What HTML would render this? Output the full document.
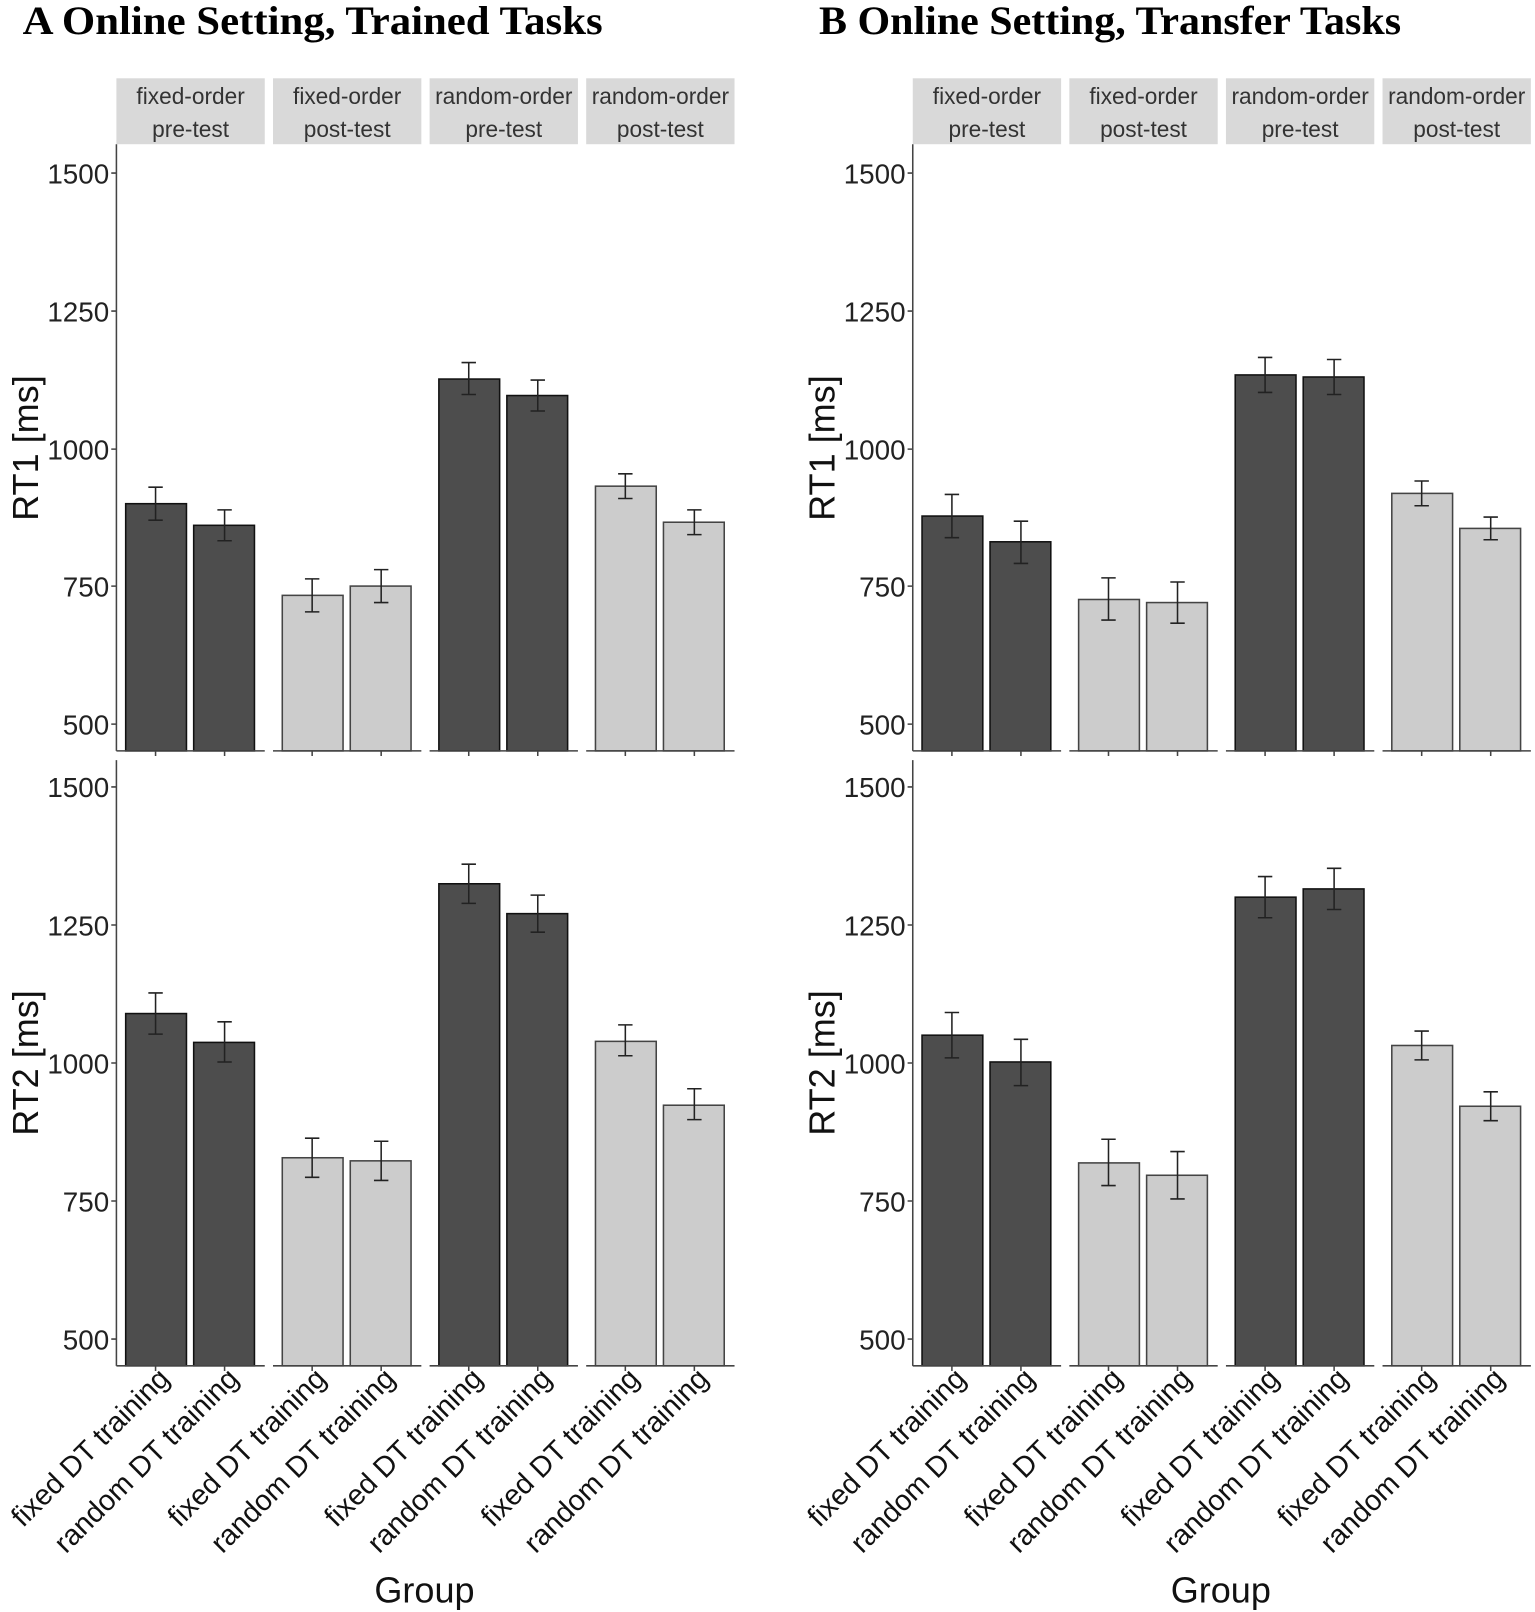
<!DOCTYPE html>
<html><head><meta charset="utf-8"><style>
html,body{margin:0;padding:0;background:#fff}
svg{display:block}
.t{font-family:"Liberation Serif",serif;font-weight:bold;font-size:39px}
.tk{font-family:"Liberation Sans",sans-serif;font-size:27px;fill:#222;text-anchor:end}
.st{font-family:"Liberation Sans",sans-serif;font-size:22px;fill:#333;text-anchor:middle}
.yl{font-family:"Liberation Sans",sans-serif;font-size:35px;fill:#111;text-anchor:middle}
.xl{font-family:"Liberation Sans",sans-serif;font-size:28px;fill:#111;text-anchor:end}
.d{fill:#4d4d4d;stroke:#111;stroke-width:1.5}
.l{fill:#cccccc;stroke:#444;stroke-width:1.5}
.e{stroke:#222;stroke-width:1.5;fill:none}
.ax{stroke:#444;stroke-width:1.5;fill:none}
.sb{fill:#d9d9d9}
</style></head><body>
<svg width="1535" height="1612" viewBox="0 0 1490 1565" preserveAspectRatio="none" xmlns="http://www.w3.org/2000/svg">
<text class="t" x="22" y="33" textLength="563" lengthAdjust="spacingAndGlyphs">A  Online Setting, Trained Tasks</text>
<text class="t" x="795" y="33" textLength="565" lengthAdjust="spacingAndGlyphs">B  Online Setting, Transfer Tasks</text>

<!-- Panel A -->
<g>
<rect class="sb" x="113" y="76" width="144" height="64"/><rect class="sb" x="265" y="76" width="144" height="64"/><rect class="sb" x="417" y="76" width="144" height="64"/><rect class="sb" x="569" y="76" width="144" height="64"/>
<text class="st" x="185" y="101">fixed-order</text><text class="st" x="185" y="133">pre-test</text>
<text class="st" x="337" y="101">fixed-order</text><text class="st" x="337" y="133">post-test</text>
<text class="st" x="489" y="101">random-order</text><text class="st" x="489" y="133">pre-test</text>
<text class="st" x="641" y="101">random-order</text><text class="st" x="641" y="133">post-test</text>
<line class="ax" x1="113" y1="140" x2="113" y2="729"/><line class="ax" x1="113" y1="738" x2="113" y2="1326"/>
<g class="tk"><text x="106" y="178">1500</text><text x="106" y="312">1250</text><text x="106" y="446">1000</text><text x="106" y="579">750</text><text x="106" y="713">500</text>
<text x="106" y="774">1500</text><text x="106" y="908">1250</text><text x="106" y="1042">1000</text><text x="106" y="1176">750</text><text x="106" y="1310">500</text></g>
<path class="ax" d="M108 168H113M108 302H113M108 436H113M108 569H113M108 703H113M108 764H113M108 898H113M108 1032H113M108 1166H113M108 1300H113"/>
<text class="yl" transform="translate(37,435) rotate(-90)">RT1 [ms]</text>
<text class="yl" transform="translate(37,1032) rotate(-90)">RT2 [ms]</text>
<rect class="d" x="122" y="489" width="59" height="240"/><rect class="d" x="188" y="510" width="59" height="219"/>
<rect class="l" x="274" y="578" width="59" height="151"/><rect class="l" x="340" y="569" width="59" height="160"/>
<rect class="d" x="426" y="368" width="59" height="361"/><rect class="d" x="492" y="384" width="59" height="345"/>
<rect class="l" x="578" y="472" width="59" height="257"/><rect class="l" x="644" y="507" width="59" height="222"/>
<path class="e" d="M151 473V505M144 473H158M144 505H158 M218 495V525M211 495H225M211 525H225 M303 562V594M296 562H310M296 594H310 M370 553V585M363 553H377M363 585H377 M455 352V383M448 352H462M448 383H462 M522 369V399M515 369H529M515 399H529 M607 460V484M600 460H614M600 484H614 M674 495V519M667 495H681M667 519H681"/>
<rect class="d" x="122" y="984" width="59" height="342"/><rect class="d" x="188" y="1012" width="59" height="314"/>
<rect class="l" x="274" y="1124" width="59" height="202"/><rect class="l" x="340" y="1127" width="59" height="199"/>
<rect class="d" x="426" y="858" width="59" height="468"/><rect class="d" x="492" y="887" width="59" height="439"/>
<rect class="l" x="578" y="1011" width="59" height="315"/><rect class="l" x="644" y="1073" width="59" height="253"/>
<path class="e" d="M151 964V1004M144 964H158M144 1004H158 M218 992V1031M211 992H225M211 1031H225 M303 1105V1143M296 1105H310M296 1143H310 M370 1108V1146M363 1108H377M363 1146H377 M455 839V877M448 839H462M448 877H462 M522 869V905M515 869H529M515 905H529 M607 995V1025M600 995H614M600 1025H614 M674 1057V1087M667 1057H681M667 1087H681"/>
<path class="ax" d="M113 729H257M265 729H409M417 729H561M569 729H713 M113 1326H257M265 1326H409M417 1326H561M569 1326H713"/>
<path class="ax" d="M151 729v5M218 729v5M303 729v5M370 729v5M455 729v5M522 729v5M607 729v5M674 729v5 M151 1326v5M218 1326v5M303 1326v5M370 1326v5M455 1326v5M522 1326v5M607 1326v5M674 1326v5"/>
<g class="xl">
<text transform="translate(166,1340) rotate(-45)">fixed DT training</text>
<text transform="translate(233,1340) rotate(-45)">random DT training</text>
<text transform="translate(318,1340) rotate(-45)">fixed DT training</text>
<text transform="translate(385,1340) rotate(-45)">random DT training</text>
<text transform="translate(470,1340) rotate(-45)">fixed DT training</text>
<text transform="translate(537,1340) rotate(-45)">random DT training</text>
<text transform="translate(622,1340) rotate(-45)">fixed DT training</text>
<text transform="translate(689,1340) rotate(-45)">random DT training</text>
</g>
<text class="yl" x="412" y="1556">Group</text>
</g>

<!-- Panel B -->
<g transform="translate(773,0)">
<rect class="sb" x="113" y="76" width="144" height="64"/><rect class="sb" x="265" y="76" width="144" height="64"/><rect class="sb" x="417" y="76" width="144" height="64"/><rect class="sb" x="569" y="76" width="144" height="64"/>
<text class="st" x="185" y="101">fixed-order</text><text class="st" x="185" y="133">pre-test</text>
<text class="st" x="337" y="101">fixed-order</text><text class="st" x="337" y="133">post-test</text>
<text class="st" x="489" y="101">random-order</text><text class="st" x="489" y="133">pre-test</text>
<text class="st" x="641" y="101">random-order</text><text class="st" x="641" y="133">post-test</text>
<line class="ax" x1="113" y1="140" x2="113" y2="729"/><line class="ax" x1="113" y1="738" x2="113" y2="1326"/>
<g class="tk"><text x="106" y="178">1500</text><text x="106" y="312">1250</text><text x="106" y="446">1000</text><text x="106" y="579">750</text><text x="106" y="713">500</text>
<text x="106" y="774">1500</text><text x="106" y="908">1250</text><text x="106" y="1042">1000</text><text x="106" y="1176">750</text><text x="106" y="1310">500</text></g>
<path class="ax" d="M108 168H113M108 302H113M108 436H113M108 569H113M108 703H113M108 764H113M108 898H113M108 1032H113M108 1166H113M108 1300H113"/>
<text class="yl" transform="translate(37,435) rotate(-90)">RT1 [ms]</text>
<text class="yl" transform="translate(37,1032) rotate(-90)">RT2 [ms]</text>
<rect class="d" x="122" y="501" width="59" height="228"/><rect class="d" x="188" y="526" width="59" height="203"/>
<rect class="l" x="274" y="582" width="59" height="147"/><rect class="l" x="340" y="585" width="59" height="144"/>
<rect class="d" x="426" y="364" width="59" height="365"/><rect class="d" x="492" y="366" width="59" height="363"/>
<rect class="l" x="578" y="479" width="59" height="250"/><rect class="l" x="644" y="513" width="59" height="216"/>
<path class="e" d="M151 480V522M144 480H158M144 522H158 M218 506V547M211 506H225M211 547H225 M303 561V602M296 561H310M296 602H310 M370 565V605M363 565H377M363 605H377 M455 347V381M448 347H462M448 381H462 M522 349V383M515 349H529M515 383H529 M607 467V491M600 467H614M600 491H614 M674 502V524M667 502H681M667 524H681"/>
<rect class="d" x="122" y="1005" width="59" height="321"/><rect class="d" x="188" y="1031" width="59" height="295"/>
<rect class="l" x="274" y="1129" width="59" height="197"/><rect class="l" x="340" y="1141" width="59" height="185"/>
<rect class="d" x="426" y="871" width="59" height="455"/><rect class="d" x="492" y="863" width="59" height="463"/>
<rect class="l" x="578" y="1015" width="59" height="311"/><rect class="l" x="644" y="1074" width="59" height="252"/>
<path class="e" d="M151 983V1027M144 983H158M144 1027H158 M218 1009V1054M211 1009H225M211 1054H225 M303 1106V1151M296 1106H310M296 1151H310 M370 1118V1164M363 1118H377M363 1164H377 M455 851V891M448 851H462M448 891H462 M522 843V883M515 843H529M515 883H529 M607 1001V1029M600 1001H614M600 1029H614 M674 1060V1088M667 1060H681M667 1088H681"/>
<path class="ax" d="M113 729H257M265 729H409M417 729H561M569 729H713 M113 1326H257M265 1326H409M417 1326H561M569 1326H713"/>
<path class="ax" d="M151 729v5M218 729v5M303 729v5M370 729v5M455 729v5M522 729v5M607 729v5M674 729v5 M151 1326v5M218 1326v5M303 1326v5M370 1326v5M455 1326v5M522 1326v5M607 1326v5M674 1326v5"/>
<g class="xl">
<text transform="translate(166,1340) rotate(-45)">fixed DT training</text>
<text transform="translate(233,1340) rotate(-45)">random DT training</text>
<text transform="translate(318,1340) rotate(-45)">fixed DT training</text>
<text transform="translate(385,1340) rotate(-45)">random DT training</text>
<text transform="translate(470,1340) rotate(-45)">fixed DT training</text>
<text transform="translate(537,1340) rotate(-45)">random DT training</text>
<text transform="translate(622,1340) rotate(-45)">fixed DT training</text>
<text transform="translate(689,1340) rotate(-45)">random DT training</text>
</g>
<text class="yl" x="412" y="1556">Group</text>
</g>
</svg>
</body></html>
